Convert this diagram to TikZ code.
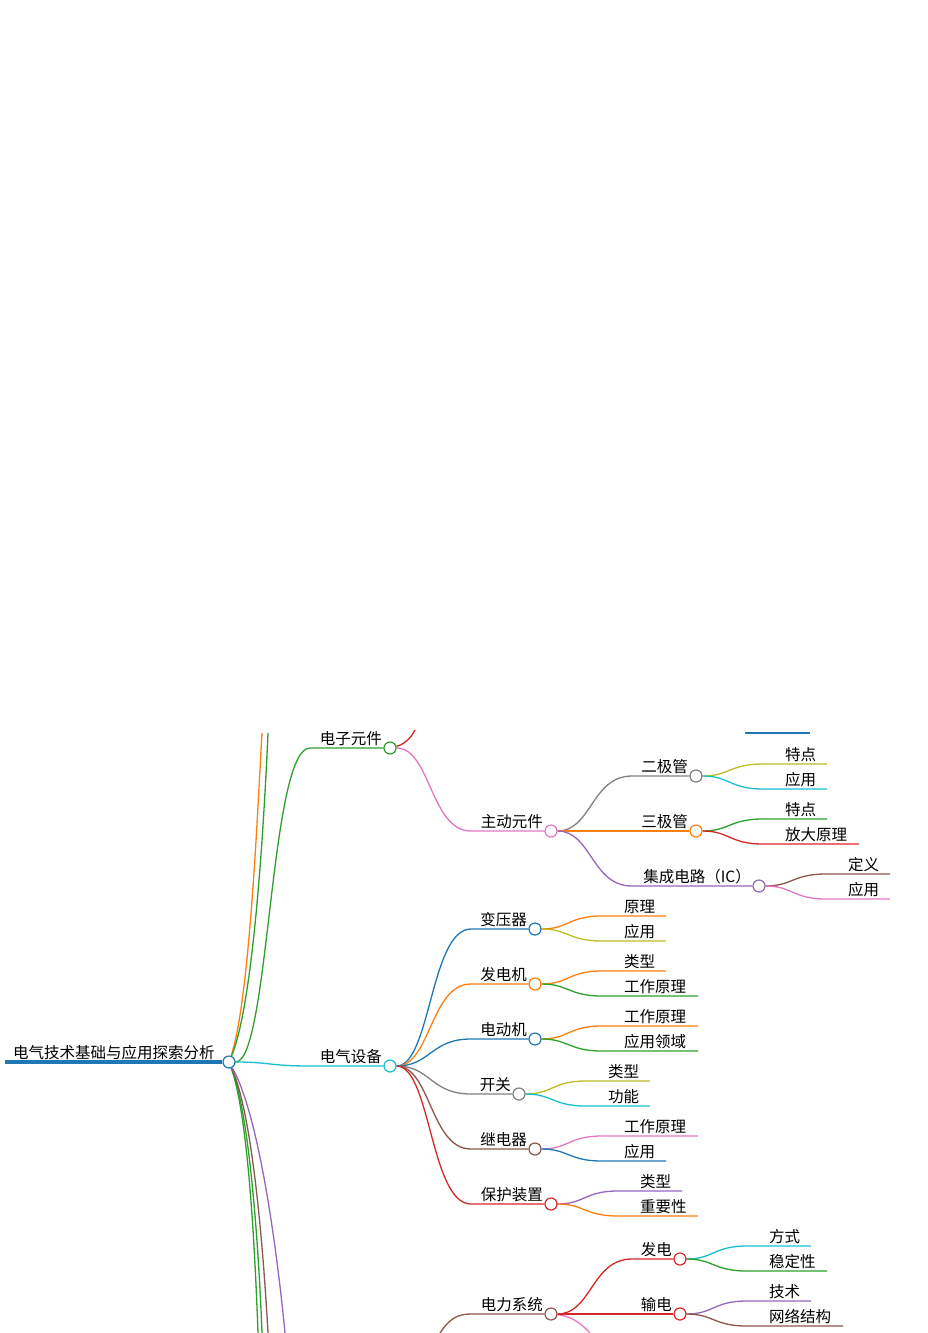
\documentclass[tikz,border=0pt]{standalone}
\usepackage{fontspec}
\setmainfont{Noto Sans CJK SC}
\usetikzlibrary{backgrounds}
\definecolor{cB}{HTML}{1F77B4}\definecolor{cO}{HTML}{FF7F0E}\definecolor{cG}{HTML}{2CA02C}
\definecolor{cR}{HTML}{D62728}\definecolor{cP}{HTML}{9467BD}\definecolor{cN}{HTML}{8C564B}
\definecolor{cK}{HTML}{E377C2}\definecolor{cY}{HTML}{808080}\definecolor{cL}{HTML}{BCBD22}
\definecolor{cC}{HTML}{17BECF}
\tikzset{lbl/.style={inner sep=0pt,font=\fontsize{15.5}{18}\selectfont},
 dot/.style={circle,draw=#1,fill=white,line width=1.2pt,minimum size=12pt,inner sep=0pt},
 cv/.style={line width=1.3pt}}
% leaf: name, parent, px, py, color, y, lx, ex, text
\newcommand\leaf[9]{%
 \coordinate (#1s) at (#7-22,#6);\coordinate (#1e) at (#8,#6);
 \node[lbl,anchor=south west] (#1) at (#7,#6-2) {#9};
 \begin{pgfonlayer}{background}
 \draw[#5,cv] (#2) .. controls ({(#3+#7-22)/2},#4) and ({(#3+#7-22)/2},#6) .. (#1s) -- (#1e);
 \end{pgfonlayer}}
% inner: name, parent, px, py, color, cx, cy, lx, text
\newcommand\inn[9]{%
 \node[dot=#5] (#1) at (#6,#7) {};
 \coordinate (#1s) at (#8-8,#7);
 \node[lbl,anchor=south east] (#1t) at (#6-8,#7-2) {#9};
 \begin{pgfonlayer}{background}
 \draw[#5,cv] (#2) .. controls ({(#3+#8-8)/2},#4) and ({(#3+#8-8)/2},#7) .. (#1s) -- (#1);
 \end{pgfonlayer}}
\begin{document}
\begin{tikzpicture}[x=1pt,y=-1pt]
\useasboundingbox (0,0) rectangle (928,1333);
\clip (0,0) rectangle (928,1333);
\node[dot=cB] (root) at (229,1062) {};
\coordinate (rootL) at (5,1062);
\node[lbl,anchor=south west] (roott) at (13,1060) {电气技术基础与应用探索分析};
\begin{pgfonlayer}{background}
\draw[cB,line width=3.5pt] (rootL) -- (root);
\coordinate (u1) at (262,733);\coordinate (u2) at (268,733);
\coordinate (d1) at (258,1333);\coordinate (d2) at (262,1333);\coordinate (d3) at (268,1333);\coordinate (d4) at (285,1333);
\draw[cO,cv] (root) .. controls (250,1000) and (258,800) .. (u1);
\draw[cG,cv] (root) .. controls (255,1000) and (265,800) .. (u2);
\draw[cG,cv] (root) .. controls (250,1120) and (256,1280) .. (d1);
\draw[cG,cv] (root) .. controls (252,1120) and (260,1280) .. (d2);
\draw[cN,cv] (root) .. controls (255,1120) and (265,1280) .. (d3);
\draw[cP,cv] (root) .. controls (262,1120) and (280,1280) .. (d4);
\end{pgfonlayer}
\inn{dz}{root}{229}{1062}{cG}{390}{748}{318}{电子元件}
\inn{dq}{root}{229}{1062}{cC}{390}{1066}{318}{电气设备}
\begin{pgfonlayer}{background}
\coordinate (dzr) at (415,730);
\draw[cR,cv] (dz) .. controls (402,745) and (410,740) .. (dzr);
\coordinate (bl1) at (745,733);\coordinate (bl2) at (810,733);
\draw[cB,cv] (bl1) -- (bl2);
\end{pgfonlayer}
\inn{zd}{dz}{390}{748}{cK}{551}{831}{479}{主动元件}
\inn{ej}{zd}{551}{831}{cY}{696}{776}{640}{二极管}
\inn{sj}{zd}{551}{831}{cO}{696}{831}{640}{三极管}
\inn{ic}{zd}{551}{831}{cP}{759}{886}{640}{集成电路（IC）}
\leaf{l1}{ej}{696}{776}{cL}{764}{785}{827}{特点}
\leaf{l2}{ej}{696}{776}{cC}{789}{785}{827}{应用}
\leaf{l3}{sj}{696}{831}{cG}{819}{785}{827}{特点}
\leaf{l4}{sj}{696}{831}{cR}{844}{785}{859}{放大原理}
\leaf{l5}{ic}{759}{886}{cN}{874}{848}{890}{定义}
\leaf{l6}{ic}{759}{886}{cK}{899}{848}{890}{应用}
\inn{byq}{dq}{390}{1066}{cB}{535}{929}{479}{变压器}
\inn{fdj}{dq}{390}{1066}{cO}{535}{984}{479}{发电机}
\inn{ddj}{dq}{390}{1066}{cB}{535}{1039}{479}{电动机}
\inn{kg}{dq}{390}{1066}{cY}{519}{1094}{479}{开关}
\inn{jdq}{dq}{390}{1066}{cN}{535}{1149}{479}{继电器}
\inn{bh}{dq}{390}{1066}{cR}{551}{1204}{479}{保护装置}
\leaf{m1}{byq}{535}{929}{cO}{916}{624}{666}{原理}
\leaf{m2}{byq}{535}{929}{cL}{941}{624}{666}{应用}
\leaf{m3}{fdj}{535}{984}{cO}{971}{624}{666}{类型}
\leaf{m4}{fdj}{535}{984}{cG}{996}{624}{698}{工作原理}
\leaf{m5}{ddj}{535}{1039}{cO}{1026}{624}{698}{工作原理}
\leaf{m6}{ddj}{535}{1039}{cG}{1051}{624}{698}{应用领域}
\leaf{m7}{kg}{519}{1094}{cL}{1081}{608}{650}{类型}
\leaf{m8}{kg}{519}{1094}{cC}{1106}{608}{650}{功能}
\leaf{m9}{jdq}{535}{1149}{cK}{1136}{624}{698}{工作原理}
\leaf{m10}{jdq}{535}{1149}{cB}{1161}{624}{666}{应用}
\leaf{m11}{bh}{551}{1204}{cP}{1191}{640}{682}{类型}
\leaf{m12}{bh}{551}{1204}{cO}{1216}{640}{698}{重要性}
\node[dot=cN] (dl) at (551,1314) {};
\node[lbl,anchor=south east] (dlt) at (543,1312) {电力系统};
\begin{pgfonlayer}{background}
\coordinate (dls) at (440,1333);\coordinate (dlh) at (471,1314);
\draw[cN,cv] (dls) .. controls (450,1318) and (458,1314) .. (dlh) -- (dl);
\coordinate (dlk) at (590,1333);
\draw[cK,cv] (dl) .. controls (570,1316) and (580,1322) .. (dlk);
\end{pgfonlayer}
\inn{fd}{dl}{551}{1314}{cR}{680}{1259}{640}{发电}
\inn{sd}{dl}{551}{1314}{cR}{680}{1314}{640}{输电}
\leaf{n1}{fd}{680}{1259}{cC}{1246}{769}{811}{方式}
\leaf{n2}{fd}{680}{1259}{cG}{1271}{769}{827}{稳定性}
\leaf{n3}{sd}{680}{1314}{cP}{1301}{769}{811}{技术}
\leaf{n4}{sd}{680}{1314}{cN}{1326}{769}{843}{网络结构}
\end{tikzpicture}
\end{document}
